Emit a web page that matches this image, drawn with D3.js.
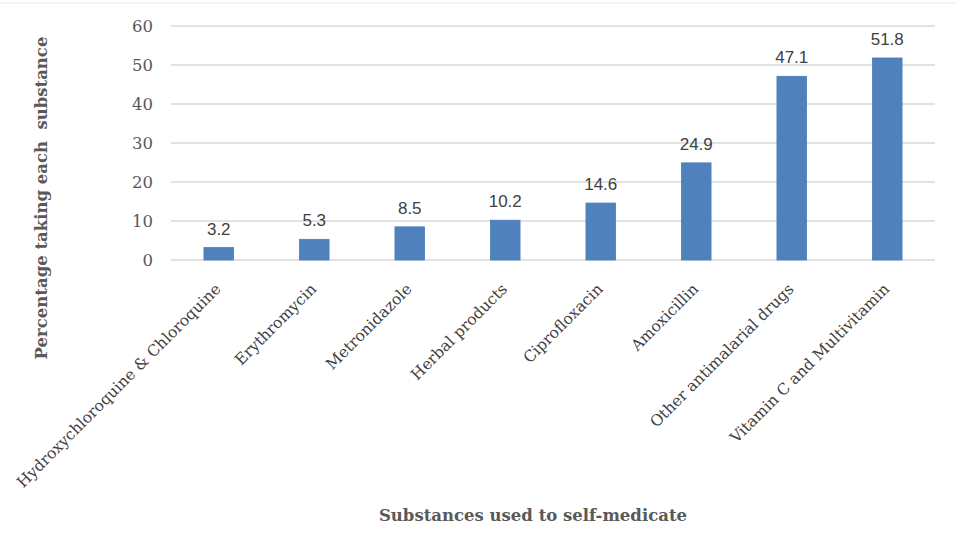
<!DOCTYPE html>
<html lang="en">
<head>
  <meta charset="UTF-8">
  <title>Substances used to self-medicate</title>
  <script src="https://d3js.org/d3.v7.min.js"></script>
  <style>
    html, body { margin: 0; padding: 0; background: #fff; }
    .tick-y { font: 16.5px "DejaVu Serif", serif; fill: #595959; }
    .cat { font: 15.5px "DejaVu Serif", serif; fill: #404040; }
    .val { font: 17px "Liberation Sans", sans-serif; fill: #404040; }
    .title { font: bold 16.5px "DejaVu Serif", serif; fill: #595959; }
  </style>
</head>
<body>
<svg id="chart" width="957" height="534"></svg>
<script>
const categories = [
  "Hydroxychloroquine & Chloroquine",
  "Erythromycin",
  "Metronidazole",
  "Herbal products",
  "Ciprofloxacin",
  "Amoxicillin",
  "Other antimalarial drugs",
  "Vitamin C and Multivitamin"
];
const values = [3.2, 5.3, 8.5, 10.2, 14.6, 24.9, 47.1, 51.8];
const yTicks = [0, 10, 20, 30, 40, 50, 60];

const svg = d3.select("#chart"),
      width = +svg.attr("width"),
      height = +svg.attr("height"),
      margin = {top: 26, right: 22, bottom: 274, left: 171};

const x = d3.scaleBand()
  .domain(categories)
  .range([margin.left, width - margin.right])
  .paddingInner(0.69)
  .paddingOuter(0.345);

const y = d3.scaleLinear()
  .domain([0, 60])
  .range([height - margin.bottom, margin.top]);

// faint chart border at top
svg.append("line")
  .attr("x1", 0).attr("x2", width)
  .attr("y1", 3).attr("y2", 3)
  .attr("stroke", "#ececec");

// gridlines
svg.append("g")
  .selectAll("line")
  .data(yTicks)
  .join("line")
    .attr("x1", margin.left)
    .attr("x2", width - margin.right)
    .attr("y1", d => y(d))
    .attr("y2", d => y(d))
    .attr("stroke", "#d9d9d9")
    .attr("stroke-width", 1.3);

// y tick labels
svg.append("g")
  .selectAll("text")
  .data(yTicks)
  .join("text")
    .attr("class", "tick-y")
    .attr("x", margin.left - 18)
    .attr("y", d => y(d))
    .attr("dy", "0.35em")
    .attr("text-anchor", "end")
    .text(d => d);

// bars
svg.append("g")
  .selectAll("rect")
  .data(values)
  .join("rect")
    .attr("x", (d, i) => x(categories[i]))
    .attr("y", d => y(d))
    .attr("width", x.bandwidth())
    .attr("height", d => y(0) - y(d))
    .attr("fill", "#4f81bd")
    .attr("stroke", "#4a7dbc")
    .attr("stroke-width", 0.8);

// value labels
svg.append("g")
  .selectAll("text")
  .data(values)
  .join("text")
    .attr("class", "val")
    .attr("x", (d, i) => x(categories[i]) + x.bandwidth() / 2)
    .attr("y", d => y(d) - 13)
    .attr("text-anchor", "middle")
    .text(d => d.toFixed(1));

// category labels, rotated
svg.append("g")
  .selectAll("text")
  .data(categories)
  .join("text")
    .attr("class", "cat")
    .attr("text-anchor", "end")
    .attr("transform", d => `translate(${x(d) + x.bandwidth() / 2 + 3},${y(0) + 30}) rotate(-45)`)
    .text(d => d);

// axis titles
svg.append("text")
  .attr("class", "title")
  .attr("text-anchor", "middle")
  .attr("transform", "translate(47,198) rotate(-90)")
  .text("Percentage taking each\u00a0 substance");

svg.append("text")
  .attr("class", "title")
  .attr("text-anchor", "middle")
  .attr("x", 533)
  .attr("y", 521)
  .text("Substances used to self-medicate");
</script>
</body>
</html>
